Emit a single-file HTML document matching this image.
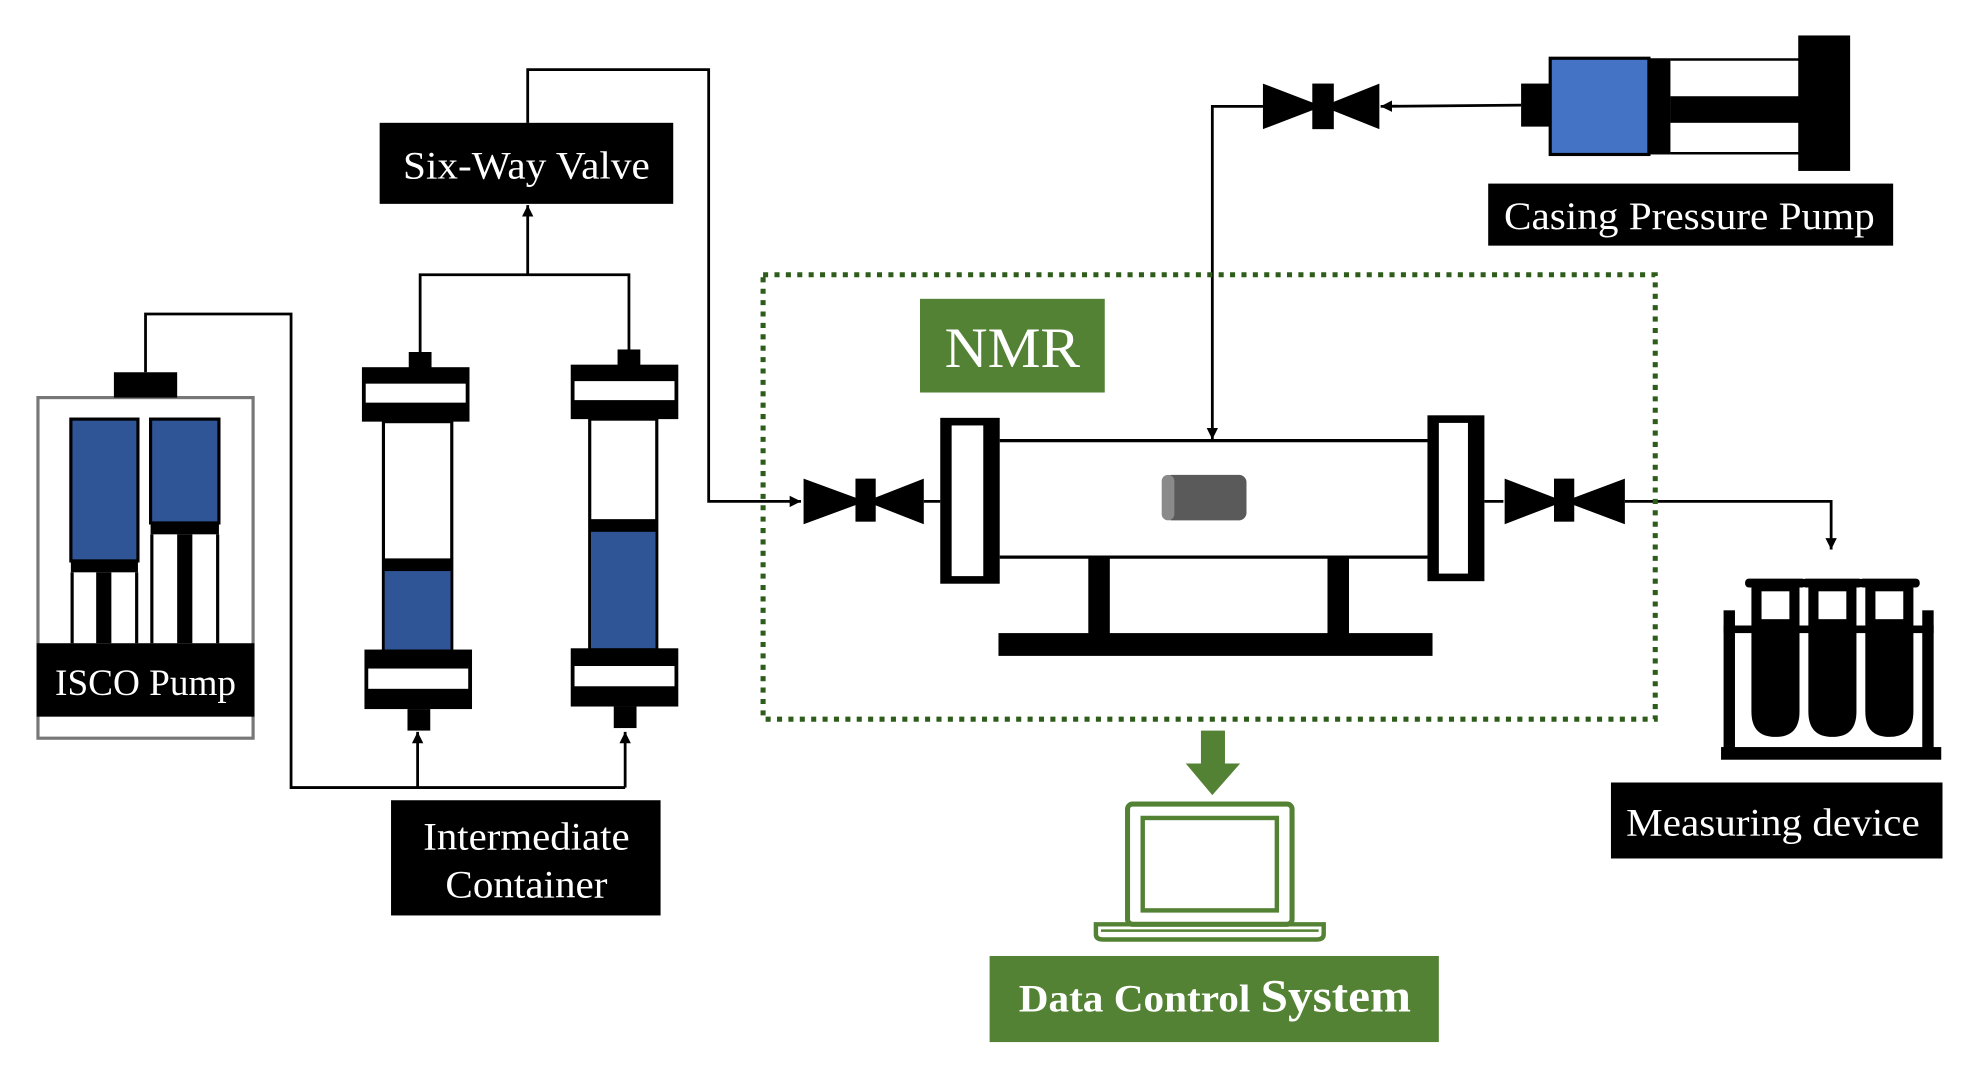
<!DOCTYPE html>
<html><head><meta charset="utf-8"><style>html,body{margin:0;padding:0;background:#fff}svg{display:block}</style></head>
<body>
<svg width="1983" height="1075" viewBox="0 0 1567 849" preserveAspectRatio="none" xmlns="http://www.w3.org/2000/svg" font-family="Liberation Serif, serif">
<defs>
<marker id="ah" viewBox="0 0 10 10" refX="10" refY="5" markerWidth="9" markerHeight="9" markerUnits="userSpaceOnUse" orient="auto"><path d="M0,0L10,5L0,10z" fill="#000"/></marker>
</defs>
<g fill="none" stroke="#000" stroke-width="2.2">
<polyline points="417,97 417,55 560,55 560,396 633,396" marker-end="url(#ah)"/>
<polyline points="332,278 332,217 497,217 497,278"/>
<line x1="417" y1="217" x2="417" y2="162" marker-end="url(#ah)"/>
<polyline points="115,294 115,248 230,248 230,622 494,622"/>
<line x1="330" y1="622" x2="330" y2="578" marker-end="url(#ah)"/>
<line x1="494" y1="622" x2="494" y2="578" marker-end="url(#ah)"/>
<line x1="1202" y1="83" x2="1091" y2="84" marker-end="url(#ah)"/>
<polyline points="998,84 958,84 958,347" marker-end="url(#ah)"/>
<line x1="730" y1="396" x2="743" y2="396"/>
<line x1="1173" y1="396" x2="1188" y2="396"/>
<polyline points="1284,396 1447,396 1447,434" marker-end="url(#ah)"/>
</g>
<rect x="300" y="97" width="232" height="64" fill="#000"/>
<text x="416" y="141" fill="#fff" font-size="31" text-anchor="middle" textLength="195" lengthAdjust="spacingAndGlyphs">Six-Way Valve</text>
<rect x="30" y="314" width="170" height="269" fill="#fff" stroke="#777" stroke-width="2.5"/>
<rect x="90" y="294" width="50" height="20" fill="#000"/>
<rect x="56" y="331" width="53" height="112" fill="#2f5597" stroke="#000" stroke-width="2.5"/>
<rect x="119" y="331" width="54" height="82" fill="#2f5597" stroke="#000" stroke-width="2.5"/>
<rect x="56" y="443" width="53" height="9" fill="#000"/>
<rect x="119" y="413" width="54" height="9" fill="#000"/>
<g fill="none" stroke="#000" stroke-width="2.5"><line x1="57" y1="452" x2="57" y2="508"/><line x1="108" y1="452" x2="108" y2="508"/><line x1="120" y1="422" x2="120" y2="508"/><line x1="172" y1="422" x2="172" y2="508"/></g>
<rect x="76" y="452" width="12" height="56" fill="#000"/>
<rect x="140" y="422" width="12" height="86" fill="#000"/>
<rect x="29" y="508" width="172" height="58" fill="#000"/>
<text x="115" y="549" fill="#fff" font-size="29" text-anchor="middle" textLength="143" lengthAdjust="spacingAndGlyphs">ISCO Pump</text>
<rect x="323" y="278" width="18" height="14" fill="#000"/>
<rect x="286" y="290" width="85" height="43" fill="#000"/><rect x="289" y="303" width="79" height="15" fill="#fff"/>
<rect x="303" y="333" width="54" height="180" fill="#fff" stroke="#000" stroke-width="2.5"/>
<rect x="304" y="450" width="52" height="63" fill="#2f5597"/>
<rect x="303" y="441" width="54" height="10" fill="#000"/>
<rect x="288" y="513" width="85" height="47" fill="#000"/><rect x="291" y="528" width="79" height="16" fill="#fff"/>
<rect x="322" y="560" width="18" height="17" fill="#000"/>
<rect x="488" y="276" width="18" height="14" fill="#000"/>
<rect x="451" y="288" width="85" height="43" fill="#000"/><rect x="454" y="301" width="79" height="15" fill="#fff"/>
<rect x="466" y="331" width="53" height="182" fill="#fff" stroke="#000" stroke-width="2.5"/>
<rect x="467" y="419" width="51" height="93" fill="#2f5597"/>
<rect x="466" y="410" width="53" height="10" fill="#000"/>
<rect x="451" y="512" width="85" height="46" fill="#000"/><rect x="454" y="526" width="79" height="16" fill="#fff"/>
<rect x="485" y="558" width="18" height="17" fill="#000"/>
<rect x="309" y="632" width="213" height="91" fill="#000"/>
<text x="416" y="671" fill="#fff" font-size="31" text-anchor="middle" textLength="163" lengthAdjust="spacingAndGlyphs">Intermediate</text>
<text x="416" y="709" fill="#fff" font-size="31" text-anchor="middle" textLength="128" lengthAdjust="spacingAndGlyphs">Container</text>
<rect x="603" y="217" width="705" height="351" fill="none" stroke="#2e5c1a" stroke-width="4" stroke-dasharray="4,5"/>
<rect x="727" y="236" width="146" height="74" fill="#548235"/>
<text x="800" y="290" fill="#fff" font-size="45" text-anchor="middle" textLength="107" lengthAdjust="spacingAndGlyphs">NMR</text>
<line x1="790" y1="348" x2="1128" y2="348" stroke="#000" stroke-width="2.5"/>
<line x1="790" y1="440" x2="1128" y2="440" stroke="#000" stroke-width="2.5"/>
<rect x="743" y="330" width="47" height="131" fill="#000"/><rect x="752" y="336" width="25" height="119" fill="#fff"/>
<rect x="1128" y="328" width="45" height="131" fill="#000"/><rect x="1137" y="334" width="23" height="119" fill="#fff"/>
<rect x="920" y="375" width="65" height="36" rx="6" fill="#5a5a5a"/><rect x="918" y="375" width="10" height="36" rx="5" fill="#8a8a8a"/>
<rect x="860" y="440" width="17" height="62" fill="#000"/><rect x="1049" y="440" width="17" height="62" fill="#000"/>
<rect x="789" y="500" width="343" height="18" fill="#000"/>
<path d="M635,378L684,396L635,414z M730,378L684,396L730,414z" fill="#000"/><rect x="676" y="378" width="16" height="34" fill="#000"/>
<path d="M1189,378L1236,396L1189,414z M1284,378L1236,396L1284,414z" fill="#000"/><rect x="1228" y="378" width="16" height="34" fill="#000"/>
<path d="M998,66L1045,84L998,102z M1090,66L1045,84L1090,102z" fill="#000"/><rect x="1037" y="66" width="17" height="36" fill="#000"/>
<rect x="1202" y="66" width="24" height="34" fill="#000"/>
<rect x="1225" y="46" width="78" height="76" fill="#4472c4" stroke="#000" stroke-width="2.5"/>
<rect x="1302" y="46" width="18" height="76" fill="#000"/>
<line x1="1320" y1="47" x2="1422" y2="47" stroke="#000" stroke-width="2"/>
<line x1="1320" y1="121" x2="1422" y2="121" stroke="#000" stroke-width="2"/>
<rect x="1320" y="76" width="102" height="21" fill="#000"/>
<rect x="1421" y="28" width="41" height="107" fill="#000"/>
<rect x="1176" y="145" width="320" height="49" fill="#000"/>
<text x="1335" y="181" fill="#fff" font-size="31" text-anchor="middle" textLength="293" lengthAdjust="spacingAndGlyphs">Casing Pressure Pump</text>
<rect x="949" y="577" width="19" height="28" fill="#548235"/>
<path d="M937,603L980,603L958,628z" fill="#548235"/>
<rect x="891" y="635" width="130" height="95" rx="4" fill="none" stroke="#548235" stroke-width="4"/>
<rect x="903" y="646" width="106" height="73" fill="none" stroke="#548235" stroke-width="3.5"/>
<path d="M866,730L1046,730L1046,738Q1046,742 1040,742L872,742Q866,742 866,738z" fill="none" stroke="#548235" stroke-width="3.5"/>
<line x1="870" y1="735" x2="1042" y2="735" stroke="#548235" stroke-width="2"/>
<rect x="782" y="755" width="355" height="68" fill="#548235"/>
<text x="960" y="799" fill="#fff" font-size="31" font-weight="bold" text-anchor="middle" textLength="310" lengthAdjust="spacingAndGlyphs">Data Control <tspan font-size="37">System</tspan></text>
<rect x="1362" y="482" width="9" height="110" fill="#000"/><rect x="1519" y="482" width="9" height="110" fill="#000"/>
<rect x="1362" y="494" width="166" height="6" fill="#000"/>
<rect x="1360" y="590" width="174" height="10" fill="#000"/>
<g fill="#000">
<rect x="1379" y="457" width="48" height="7" rx="3"/><path d="M1384,464L1422,464L1422,562Q1422,582 1403,582Q1384,582 1384,562z"/>
<rect x="1424" y="457" width="48" height="7" rx="3"/><path d="M1429,464L1467,464L1467,562Q1467,582 1448,582Q1429,582 1429,562z"/>
<rect x="1469" y="457" width="48" height="7" rx="3"/><path d="M1474,464L1512,464L1512,562Q1512,582 1493,582Q1474,582 1474,562z"/>
</g>
<rect x="1392" y="467" width="22" height="22" fill="#fff"/><rect x="1437" y="467" width="22" height="22" fill="#fff"/><rect x="1482" y="467" width="22" height="22" fill="#fff"/>
<rect x="1273" y="618" width="262" height="60" fill="#000"/>
<text x="1401" y="660" fill="#fff" font-size="31" text-anchor="middle" textLength="232" lengthAdjust="spacingAndGlyphs">Measuring device</text>
</svg>
</body></html>
